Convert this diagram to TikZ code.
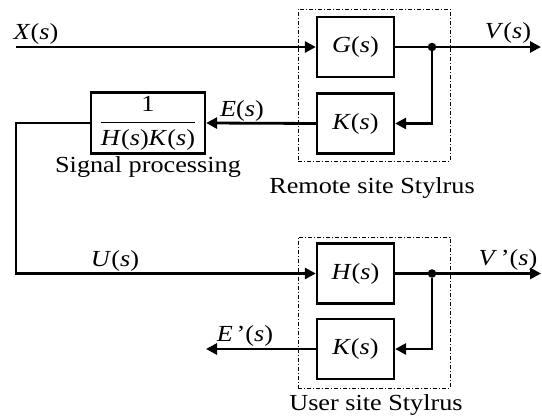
\documentclass[tikz,border=0pt]{standalone}
\usepackage{fontspec}
\setmainfont[FakeStretch=1.14]{Liberation Serif}
\usetikzlibrary{arrows.meta}
\newcommand\mi[1]{\textit{#1}}
\begin{document}
\begin{tikzpicture}[x=1pt,y=-1pt,
  blk/.style={draw,line width=2.3pt,minimum width=77pt,minimum height=60pt,inner sep=0pt,font=\fontsize{23}{25}\selectfont},
  sig/.style={line width=2.8pt,-{Triangle[length=11pt,width=11pt]}},
  wire/.style={line width=2.8pt},
  grp/.style={draw,line width=0.9pt,dash pattern=on 4pt off 2pt on 1pt off 2pt},
  lbl/.style={font=\fontsize{23}{25}\selectfont,inner sep=0pt},
  captxt/.style={font=\fontsize{23}{25}\selectfont,inner sep=0pt},
  dot/.style={circle,fill,inner sep=0pt,minimum size=8.5pt}]
\useasboundingbox (0,0) rectangle (542,419);
% remote site
\node[grp,minimum width=152pt,minimum height=152pt] (rem) at (374,85) {};
\node[blk] (G) at (355.5,47) {\mi{G}(\mi{s})};
\node[blk] (K1) at (355.5,123.5) {\mi{K}(\mi{s})};
\node[dot] (j1) at (432,47) {};
\coordinate (xin) at (16,47);
\coordinate (vout) at (541,47);
\draw[sig] (xin) -- (G.west);
\draw[wire] (G.east) -- (j1);
\draw[sig] (j1) -- (vout);
\draw[sig] (j1) |- (K1.east);
% signal processing
\node[blk,minimum width=114pt,minimum height=61pt] (P) at (148,123) {$\displaystyle\frac{\mbox{1}}{\mbox{\mi{H}(\mi{s})\mi{K}(\mi{s})}}$};
\draw[sig] (K1.west) -- (P.east);
\coordinate (c1) at (16,123);
\coordinate (c2) at (16,273.5);
% user site
\node[grp,minimum width=152pt,minimum height=151pt] (usr) at (374,312.5) {};
\node[blk] (H) at (355.5,273.5) {\mi{H}(\mi{s})};
\node[blk] (K2) at (355.5,349) {\mi{K}(\mi{s})};
\node[dot] (j2) at (432,273.5) {};
\coordinate (vout2) at (541,273.5);
\coordinate (eout) at (206,349);
\draw[sig] (P.west) -- (c1) -- (c2) -- (H.west);
\draw[wire] (H.east) -- (j2);
\draw[sig] (j2) -- (vout2);
\draw[sig] (j2) |- (K2.east);
\draw[sig] (K2.west) -- (eout);
% labels
\node[lbl] (lx) at (36,34) {\mi{X}(\mi{s})};
\node[lbl] (lv) at (508,33) {\mi{V}(\mi{s})};
\node[lbl] (le) at (242,111) {\mi{E}(\mi{s})};
\node[lbl] (lu) at (115,261) {\mi{U}(\mi{s})};
\node[lbl] (lv2) at (508,260) {\mi{V}\,’(\mi{s})};
\node[lbl] (le2) at (245,336) {\mi{E}\,’(\mi{s})};
\node[captxt] (lsp) at (148,167) {Signal processing};
\node[captxt] (lrem) at (372,188) {Remote site Stylrus};
\node[captxt] (lusr) at (376,405) {User site Stylrus};
\end{tikzpicture}
\end{document}
